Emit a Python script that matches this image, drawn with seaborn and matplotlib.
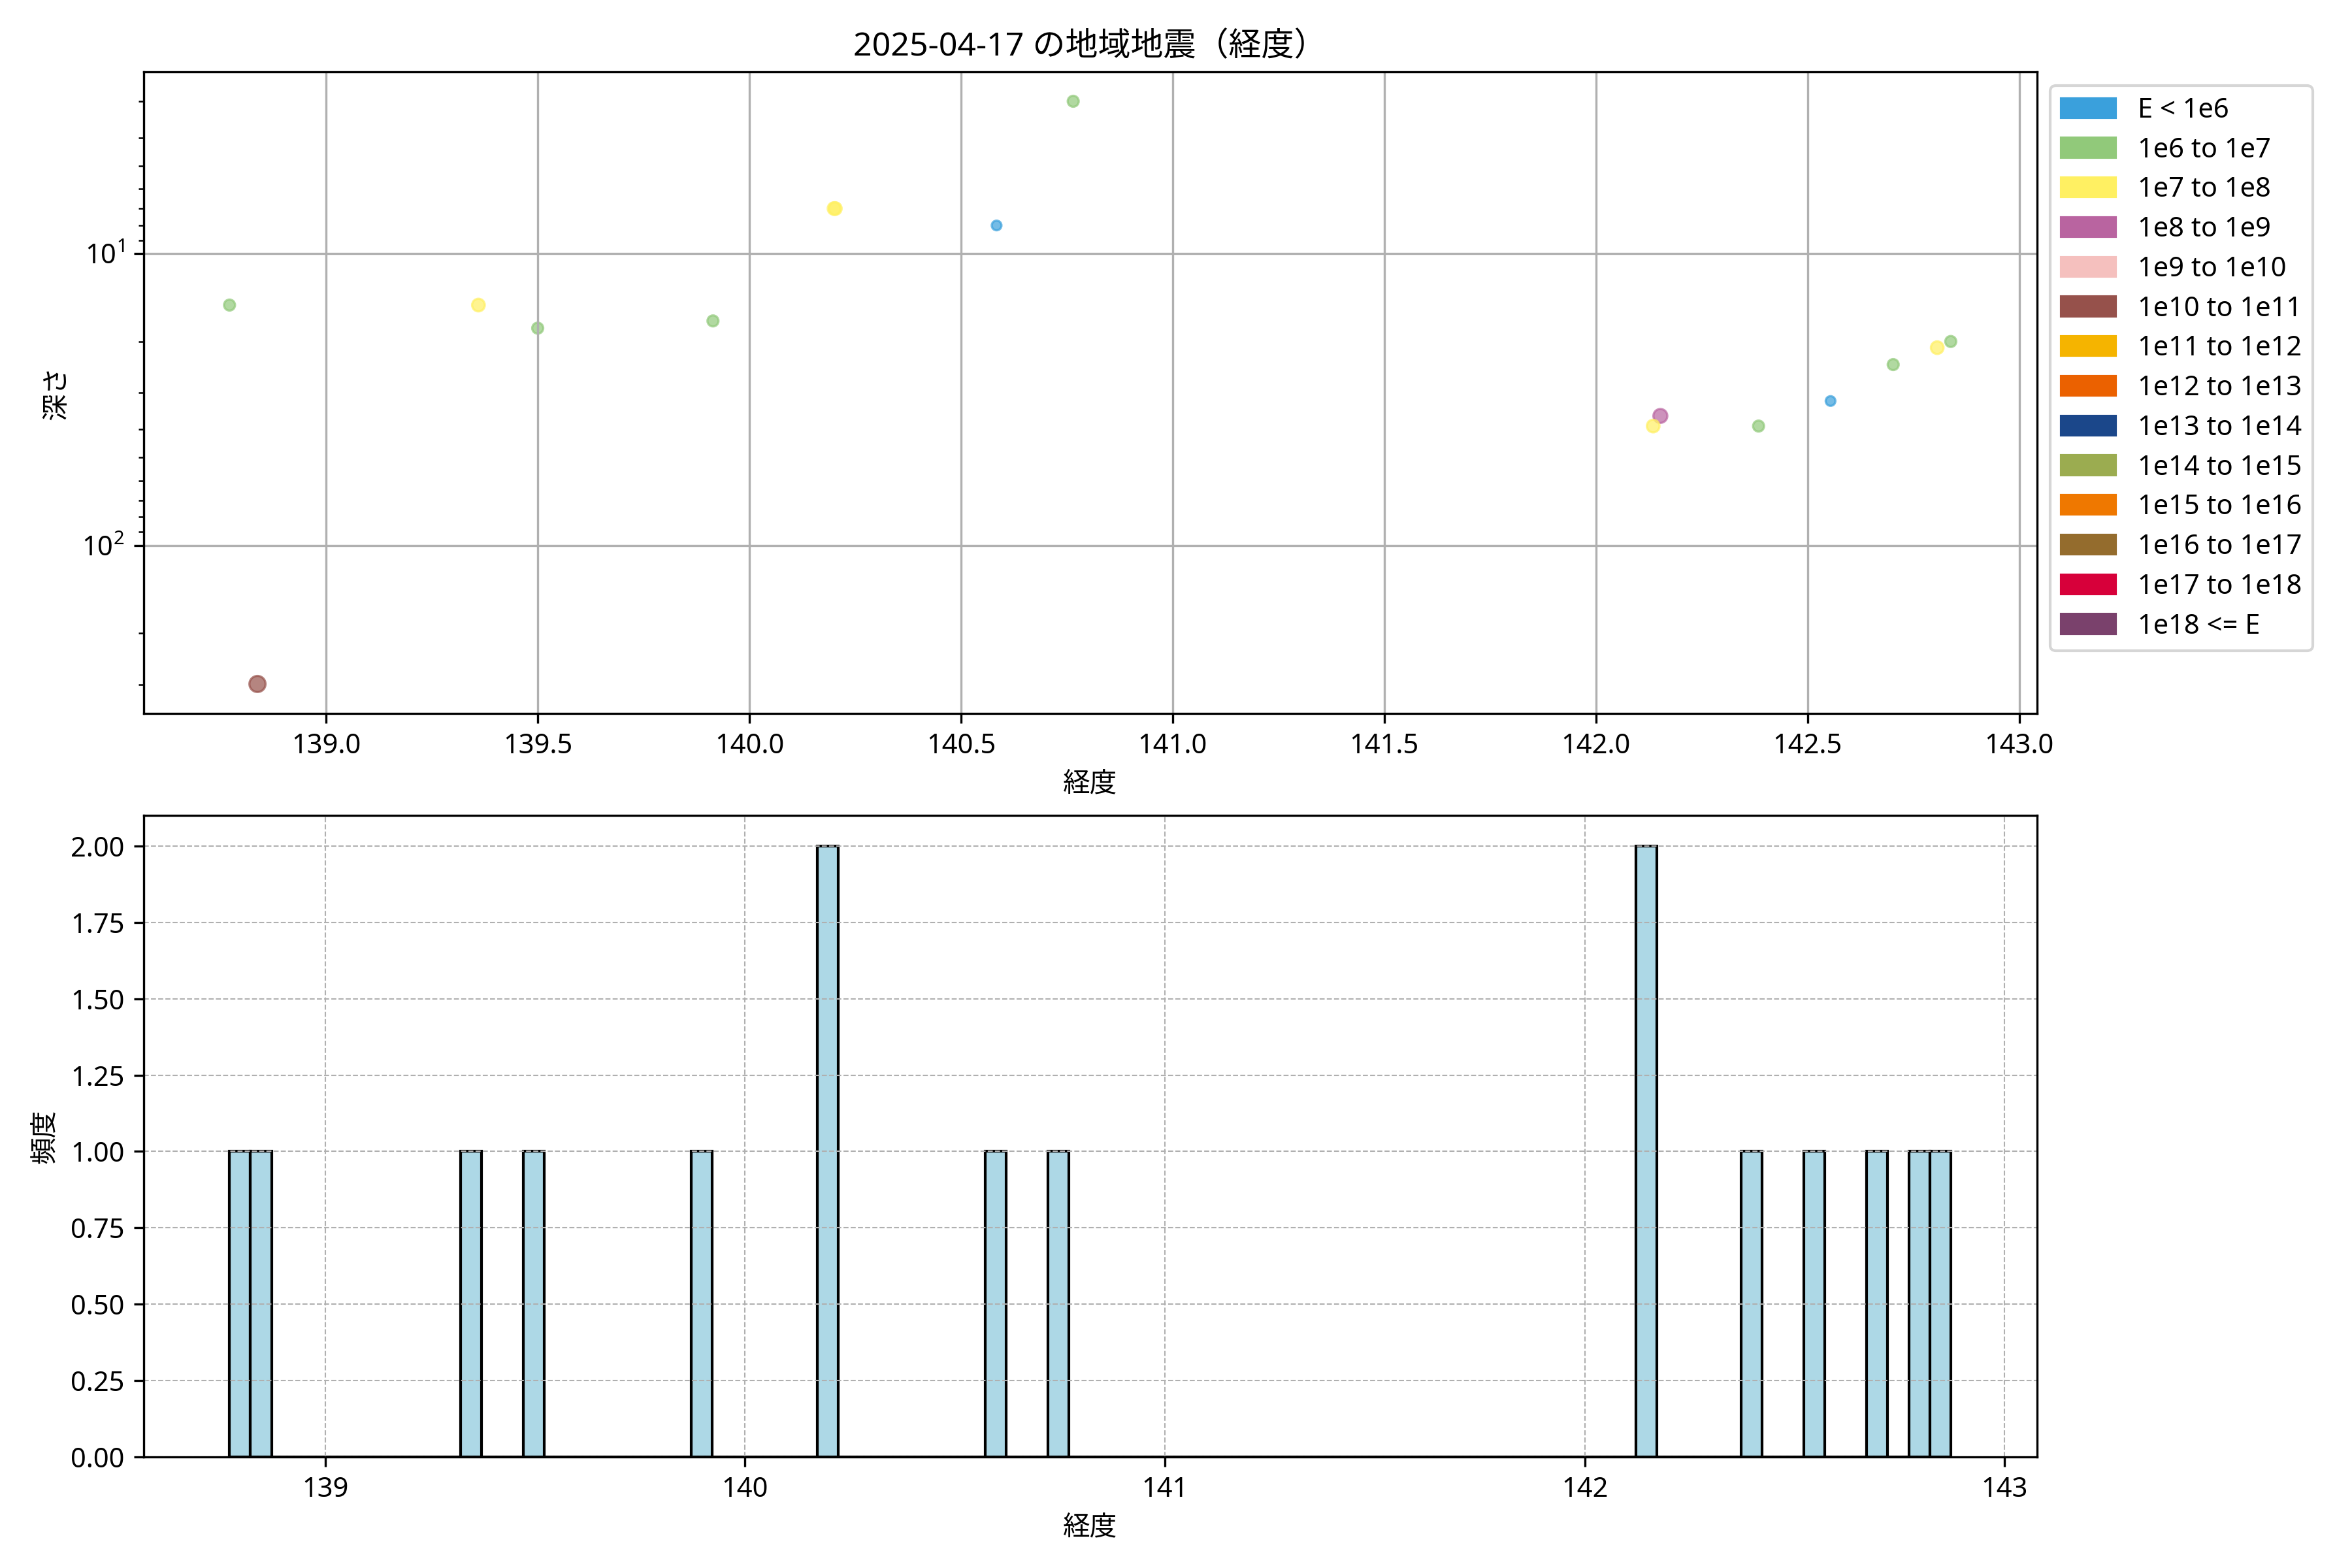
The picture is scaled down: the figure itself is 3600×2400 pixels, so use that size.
import numpy as np
import pandas as pd
import matplotlib
matplotlib.use("Agg")
import matplotlib.pyplot as plt
from matplotlib.patches import Patch
import seaborn as sns

# 震源データ
longitude = [138.772, 138.838, 139.360, 139.500, 139.914, 140.203, 140.200,
             140.584, 140.765, 142.152, 142.135, 142.384, 142.554, 142.702,
             142.806, 142.838]
depth = [15, 299, 15, 18, 17, 7, 7, 8, 3, 36, 39, 39, 32, 24, 21, 20]
magnitude = [1.1, 3.6, 1.8, 1.1, 1.1, 1.8, 1.8, 0.6, 1.1, 2.4, 1.8, 1.1,
             0.6, 1.1, 1.8, 1.1]
energy_class = ["1e6 to 1e7", "1e10 to 1e11", "1e7 to 1e8", "1e6 to 1e7",
                "1e6 to 1e7", "1e7 to 1e8", "1e7 to 1e8", "E < 1e6",
                "1e6 to 1e7", "1e8 to 1e9", "1e7 to 1e8", "1e6 to 1e7",
                "E < 1e6", "1e6 to 1e7", "1e7 to 1e8", "1e6 to 1e7"]

# エネルギー階級と色
class_labels = ["E < 1e6", "1e6 to 1e7", "1e7 to 1e8", "1e8 to 1e9",
                "1e9 to 1e10", "1e10 to 1e11", "1e11 to 1e12", "1e12 to 1e13",
                "1e13 to 1e14", "1e14 to 1e15", "1e15 to 1e16", "1e16 to 1e17",
                "1e17 to 1e18", "1e18 <= E"]
class_colors = ["#3aa0dc", "#91c97a", "#fff062", "#b964a0", "#f5c0be",
                "#96514b", "#f5b400", "#eb6100", "#1b478a", "#9bac50",
                "#ef7800", "#946c2d", "#d7003a", "#7a416c"]

df = pd.DataFrame({"経度": longitude, "深さ": depth, "M": magnitude,
                   "class": energy_class})
palette = dict(zip(class_labels, class_colors))

plt.rcParams["font.family"] = ["Noto Sans", "Noto Sans CJK JP", "DejaVu Sans"]

fig, (ax1, ax2) = plt.subplots(2, 1, figsize=(12, 8), dpi=300)
fig.subplots_adjust(left=0.061, right=0.866, top=0.954, bottom=0.071, hspace=0.16)

# 上段: 経度 vs 深さ
sns.scatterplot(data=df, x="経度", y="深さ", hue="class", palette=palette,
                size="M", sizes=(12, 35), size_norm=(0.5, 3.6),
                alpha=0.7, edgecolor="face", linewidth=0.8,
                legend=False, ax=ax1)
ax1.set_yscale("log")
ax1.invert_yaxis()
ax1.grid(True)
ax1.set_title("2025-04-17 の地域地震（経度）", fontsize=12)
ax1.set_xlabel("経度")
ax1.set_ylabel("深さ")

handles = [Patch(color=c, label=l) for l, c in zip(class_labels, class_colors)]
ax1.legend(handles=handles, loc="upper left", bbox_to_anchor=(1.0, 1.0),
           fontsize=10, labelspacing=0.45)

# 下段: 経度のヒストグラム（幅0.05度）
bins = np.arange(df["経度"].min(), df["経度"].max() + 0.05, 0.05)
sns.histplot(data=df, x="経度", bins=bins, color="lightblue",
             edgecolor="black", alpha=1, linewidth=1, ax=ax2)
ax2.grid(True, linestyle="--", linewidth=0.5)
ax2.set_xlabel("経度")
ax2.set_ylabel("頻度")

plt.savefig("out.png", dpi=300)
